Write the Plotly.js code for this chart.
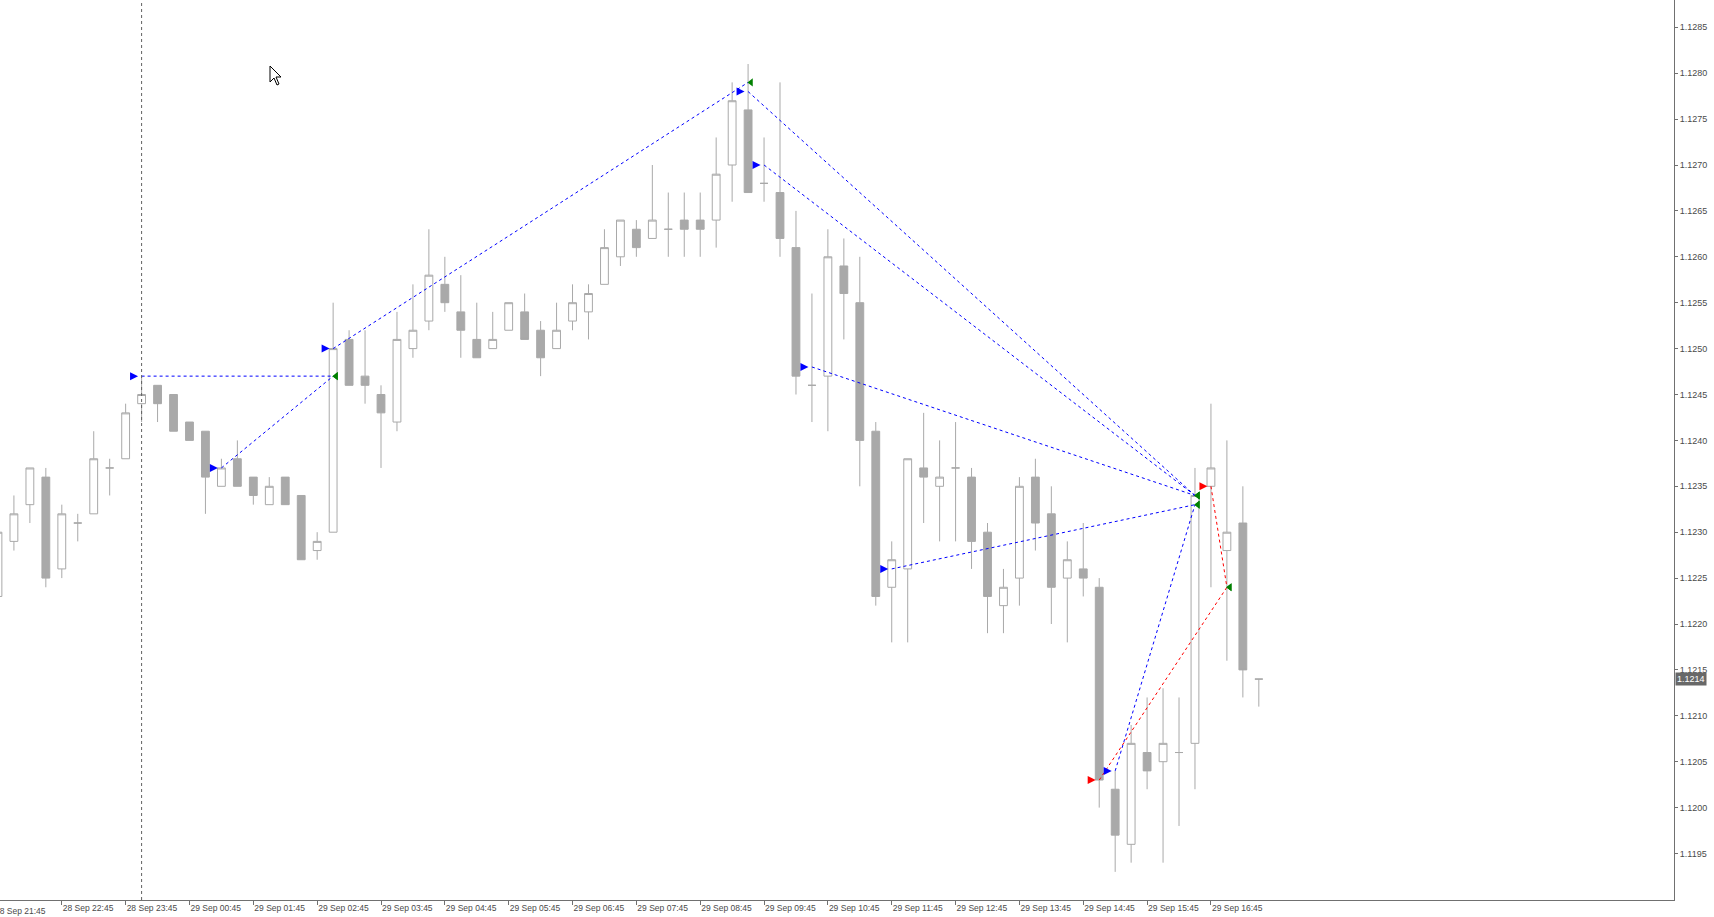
<!DOCTYPE html>
<html>
<head>
<meta charset="utf-8">
<script src="https://cdn.plot.ly/plotly-3.0.1.min.js"></script>
<style>
html,body{margin:0;padding:0;background:#fff;}
#chart{width:1714px;height:917px;}
</style>
</head>
<body>
<div id="chart"></div>
<script>
// ---- DATA (EURUSD-like M15 bars, 28 Sep 21:45 .. 29 Sep 17:30) ----
const firstBar = '2015-09-28T21:45:00Z';
const barMinutes = 15;
const openP  = [1.1223,1.1229,1.1233,1.1236,1.1226,1.1231,1.1232,1.1237,1.1238,
                1.1244,1.1246,1.1245,1.1242,1.1241,1.1235,1.1238,1.1236,1.1233,1.1236,1.1234,1.1228,
                1.1230,1.1251,1.1247,1.1245,1.1242,1.1250,1.1253,1.1257,1.1254,1.1251,1.1250,1.1252,
                1.1254,1.1252,1.1250,1.1253,1.1254,1.1257,1.1260,1.1263,1.1262,1.1263,1.1264,1.1264,
                1.1264,1.1270,1.1276,1.1268,1.1267,1.1261,1.1246,1.1247,1.1259,1.1255,1.1241,1.1224,
                1.1226,1.1237,1.1235,1.1237,1.1236,1.1230,1.1222,1.1225,1.1236,1.1232,1.1225,1.1226,
                1.1224,1.1202,1.1196,1.1206,1.1205,1.1206,1.1207,1.1235,1.1228,1.1231,1.1214];
const highP  = [1.1231,1.1234,1.1237,1.1237,1.1233,1.1232,1.1241,1.1238,1.1244,
                1.1247,1.1246,1.1245,1.1242,1.1241,1.1238,1.1240,1.1236,1.1236,1.1236,1.1234,1.1230,
                1.1255,1.1252,1.1252,1.1246,1.1254,1.1257,1.1263,1.1260,1.1258,1.1255,1.1254,1.1255,
                1.1256,1.1253,1.1255,1.1257,1.1257,1.1263,1.1264,1.1264,1.1270,1.1267,1.1267,1.1267,
                1.1273,1.1279,1.1281,1.1273,1.1279,1.1265,1.1256,1.1263,1.1262,1.1260,1.1242,1.1229,
                1.1238,1.1243,1.1240,1.1242,1.1237,1.1231,1.1226,1.1236,1.1238,1.1235,1.1229,1.1231,
                1.1225,1.1204,1.1209,1.1212,1.1213,1.1212,1.1237,1.1244,1.1240,1.1235,1.1214];
const lowP   = [1.1222,1.1228,1.1231,1.1224,1.1225,1.1229,1.1232,1.1234,1.1238,
                1.1242,1.1242,1.1241,1.1240,1.1232,1.1235,1.1235,1.1233,1.1233,1.1233,1.1227,1.1227,
                1.1230,1.1246,1.1244,1.1237,1.1241,1.1249,1.1252,1.1254,1.1249,1.1249,1.1250,1.1252,
                1.1251,1.1247,1.1250,1.1252,1.1251,1.1257,1.1259,1.1260,1.1262,1.1260,1.1260,1.1260,
                1.1261,1.1266,1.1267,1.1266,1.1260,1.1245,1.1242,1.1241,1.1251,1.1235,1.1222,1.1218,
                1.1218,1.1231,1.1229,1.1229,1.1226,1.1219,1.1219,1.1222,1.1228,1.1220,1.1218,1.1223,
                1.1200,1.1193,1.1194,1.1202,1.1194,1.1198,1.1202,1.1224,1.1216,1.1212,1.1211];
const closeP = [1.1230,1.1232,1.1237,1.1225,1.1232,1.1231,1.1238,1.1237,1.1243,
                1.1245,1.1244,1.1241,1.1240,1.1236,1.1237,1.1235,1.1234,1.1235,1.1233,1.1227,1.1229,
                1.1250,1.1246,1.1246,1.1243,1.1251,1.1252,1.1258,1.1255,1.1252,1.1249,1.1251,1.1255,
                1.1251,1.1249,1.1252,1.1255,1.1256,1.1261,1.1264,1.1261,1.1264,1.1263,1.1263,1.1263,
                1.1269,1.1277,1.1267,1.1268,1.1262,1.1247,1.1246,1.1260,1.1256,1.1240,1.1223,1.1227,
                1.1238,1.1236,1.1236,1.1237,1.1229,1.1223,1.1224,1.1235,1.1231,1.1224,1.1227,1.1225,
                1.1203,1.1197,1.1207,1.1204,1.1207,1.1206,1.1234,1.1237,1.1230,1.1215,1.1214];

// trade history: bar index (0 = first bar), prices, type
const tradeOpenBar   = [9, 14, 21, 47, 48, 51, 56, 70, 69, 76];
const tradeOpenPrice = [1.1247,1.1237,1.1250,1.1278,1.1270,1.1248,1.1226,1.1204,1.1203,1.1235];
const tradeCloseBar  = [21, 21, 47, 75, 75, 75, 75, 75, 77, 77];
const tradeClosePrice= [1.1247,1.1247,1.1279,1.1234,1.1234,1.1234,1.1233,1.1233,1.1224,1.1224];
const tradeType      = ['buy','buy','buy','buy','buy','buy','buy','buy','sell','sell'];

const separatorTime = '2015-09-29T00:00:00Z';
const yTicks = ['1.1195','1.1200','1.1205','1.1210','1.1215','1.1220','1.1225','1.1230','1.1235','1.1240',
                '1.1245','1.1250','1.1255','1.1260','1.1265','1.1270','1.1275','1.1280','1.1285'];
const xRange = ['2015-09-28T21:46:55Z','2015-09-30T00:00:12Z'];
const yRange = [1.1189935, 1.1287974];

// ---- build ----
const t0 = Date.parse(firstBar);
const step = barMinutes*60000;
const times = openP.map((_, i) => t0 + i*step);
const hourTicks = times.filter(t => new Date(t).getUTCMinutes() === 45);
const GREY = '#a9a9a9';

const traces = [];
traces.push({
  type:'candlestick', x: times, open: openP, high: highP, low: lowP, close: closeP,
  increasing:{line:{color:GREY,width:1}, fillcolor:'#ffffff'},
  decreasing:{line:{color:GREY,width:1}, fillcolor:GREY},
  whiskerwidth:0, hoverinfo:'skip', showlegend:false
});

// trade lines
['buy','sell'].forEach(tp => {
  const xs=[], ys=[];
  tradeType.forEach((t,k) => {
    if (t!==tp) return;
    xs.push(times[tradeOpenBar[k]], times[tradeCloseBar[k]], null);
    ys.push(tradeOpenPrice[k], tradeClosePrice[k], null);
  });
  traces.push({type:'scatter', mode:'lines', x:xs, y:ys, connectgaps:false,
    line:{color: tp==='buy' ? '#0000ff' : '#ff0000', width:1, dash:'3px,3px'},
    hoverinfo:'skip', showlegend:false});
});

// open arrows
['buy','sell'].forEach(tp => {
  const xs=[], ys=[];
  tradeType.forEach((t,k) => { if (t===tp){ xs.push(times[tradeOpenBar[k]] - step*0.22); ys.push(tradeOpenPrice[k]); }});
  traces.push({type:'scatter', mode:'markers', x:xs, y:ys,
    marker:{symbol:'arrow-right', size:8, color: tp==='buy' ? '#0000ff' : '#ff0000', line:{width:0}},
    hoverinfo:'skip', showlegend:false});
});
// close arrows
traces.push({type:'scatter', mode:'markers',
  x: tradeCloseBar.map(b => times[b] + step*0.18), y: tradeClosePrice,
  marker:{symbol:'triangle-left', size:7, color:'#008000', line:{width:0}},
  hoverinfo:'skip', showlegend:false});

const rs = Date.parse(xRange[0]), re = Date.parse(xRange[1]);
const firstLabelPaper = (t0 - rs)/(re - rs);

const FONT = 'Liberation Sans, Arial, sans-serif';
const AX = '#707070';
const layout = {
  width:1714, height:917,
  margin:{l:0, r:40, t:0, b:17, pad:0},
  paper_bgcolor:'#ffffff', plot_bgcolor:'#ffffff',
  showlegend:false, hovermode:false,
  xaxis:{
    type:'date', range:xRange, fixedrange:true,
    showgrid:false, zeroline:false, showline:true, linecolor:AX, linewidth:1,
    ticks:'outside', ticklen:4, tickcolor:AX, tickwidth:1,
    tickmode:'array', tickvals: hourTicks, tickformat:'%d %b %H:%M',
    ticklabelposition:'outside right',
    tickfont:{family:FONT, size:8.5, color:'#4a4a4a'},
    rangeslider:{visible:false}
  },
  yaxis:{
    side:'right', range:yRange, fixedrange:true,
    showgrid:false, zeroline:false, showline:true, linecolor:AX, linewidth:1,
    ticks:'outside', ticklen:3, tickcolor:AX, tickwidth:1,
    tickmode:'array', tickvals:yTicks.map(Number), ticktext:yTicks,
    tickfont:{family:FONT, size:9, color:'#4a4a4a'}
  },
  shapes:[
    {type:'line', xref:'x', yref:'paper', x0:separatorTime, x1:separatorTime, y0:0, y1:1,
     line:{color:'#606060', width:1, dash:'3px,3px'}},
    {type:'path', xref:'paper', yref:'paper', xsizemode:'pixel', ysizemode:'pixel',
     xanchor:270/1674, yanchor:1-66/900,
     path:'M0,0 L0,-16 L4,-12 L7,-19 L9,-18 L6,-11 L11,-11 Z',
     fillcolor:'#ffffff', line:{color:'#000000', width:1}}
  ],
  annotations:[
    {xref:'paper', yref:'y', x:1, y:closeP[closeP.length-1], xanchor:'left', yanchor:'middle', xshift:1,
     text: closeP[closeP.length-1].toFixed(4), showarrow:false, bgcolor:'#686868', borderpad:1,
     font:{family:FONT, size:9, color:'#ffffff'}},
    {xref:'paper', yref:'paper', x:firstLabelPaper, y:0, yshift:-4, xshift:-5, xanchor:'left', yanchor:'top',
     text:'28 Sep 21:45', showarrow:false, font:{family:FONT, size:8.5, color:'#4a4a4a'}}
  ]
};

Plotly.newPlot('chart', traces, layout, {staticPlot:true, displayModeBar:false});
</script>
</body>
</html>
